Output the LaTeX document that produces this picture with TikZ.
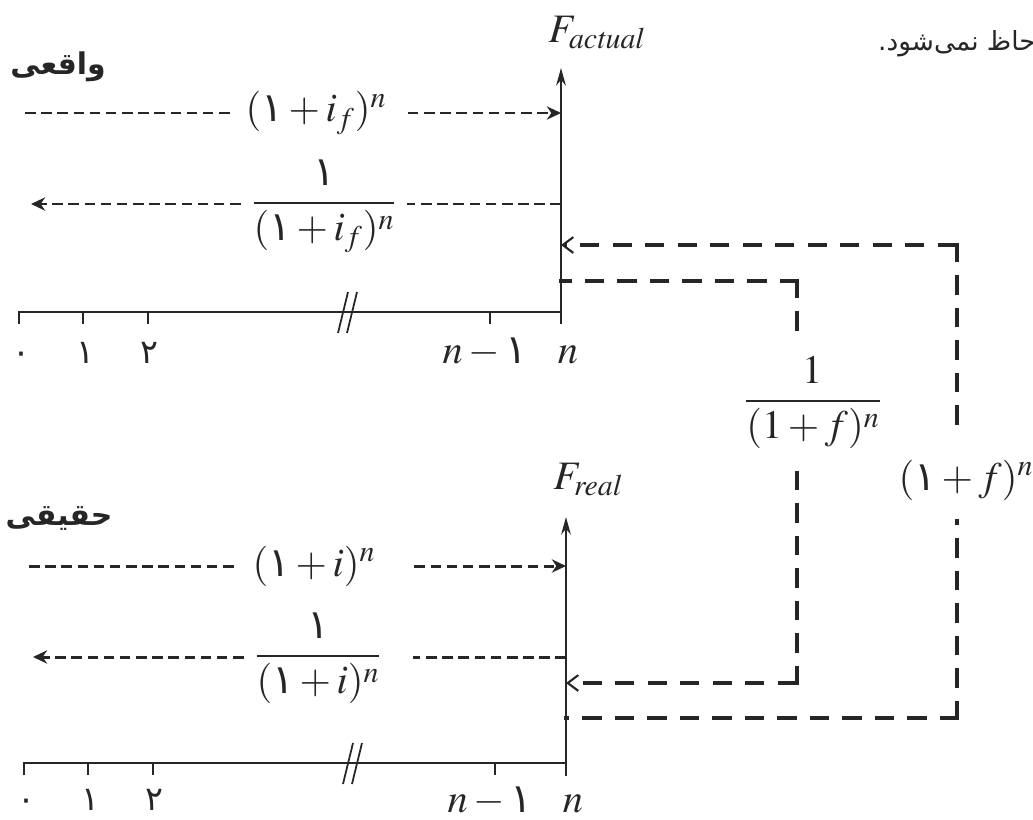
\documentclass[tikz,border=0pt]{standalone}
\usepackage{mathptmx}
\usepackage[no-math]{fontspec}
\setmainfont{Liberation Serif}
\newfontfamily\arabicfont[Script=Arabic]{DejaVu Sans}
\TeXXeTstate=1
\usetikzlibrary{positioning,arrows.meta,calc}
\definecolor{ink}{gray}{0.15}
\newcommand{\fa}[1]{\mbox{\arabicfont #1}}

\begin{document}
\begin{tikzpicture}[
        x=0.2mm, y=-0.2mm,
        every node/.style={text=ink, inner sep=0pt},
        mathlbl/.style={font=\fontsize{23}{27}\selectfont},
        faword/.style={font=\fontsize{17}{20}\selectfont\arabicfont\bfseries},
        fanote/.style={font=\fontsize{15}{18}\selectfont\arabicfont},
        fadigit/.style={font=\fontsize{19}{22}\selectfont\arabicfont},
        axisline/.style={draw=ink, line width=1.2pt},
        axisarrow/.style={axisline, -{Stealth[length=10pt, width=5.5pt]}},
        flowline/.style={draw=ink, line width=1.7pt, dash pattern=on 6pt off 3.2pt},
        flowarrow/.style={flowline, -{Stealth[length=8pt, width=7.5pt, inset=2.5pt]}},
        convline/.style={draw=ink, line width=2.8pt, line cap=rect, dash pattern=on 8.5pt off 10pt},
        convarrow/.style={convline, line cap=butt, dash pattern=on 11pt off 7.5pt, -{Straight Barb[length=6pt, width=9pt, line width'=1.2pt]}}
    ]
        \useasboundingbox (0,0) rectangle (1033,819);

        % Top time line (actual)
        \node[faword] (actlbl) at (58,67) {\beginR واقعی\endR};
        \node[fanote, anchor=east] (note) at (1036,44) {\beginR حاظ نمی‌شود.\endR};

        \coordinate (ta0) at (19,312);
        \coordinate (tan) at (561,312);
        \coordinate (tabot) at (561,324);
        \coordinate (tatop) at (561,68);
        \draw[axisline] (19,324) -- (ta0) -- (tan);
        \draw[axisarrow] (tabot) -- (tatop);
        \node[mathlbl, anchor=base west] (fact) at (548,42) {$F_{\mathit{actual}}$};

        % ticks and break
        \draw[axisline] (83,312) -- (83,324);
        \draw[axisline] (148,312) -- (148,324);
        \draw[axisline] (490,312) -- (490,324);
        \draw[axisline, line width=1pt] (338,333) -- (348,292) (347,333) -- (357,292);

        \node[fadigit, anchor=base] (t0) at (21,363) {۰};
        \node[fadigit, anchor=base] (t1) at (85,363) {۱};
        \node[fadigit, anchor=base] (t2) at (149,363) {۲};
        \node[mathlbl, anchor=base] (tn1) at (485,363) {$n-\fa{۱}$};
        \node[mathlbl, anchor=base] (tnn) at (568,363) {$n$};

        % compound and discount (actual rate)
        \coordinate (tc1s) at (25,113);
        \coordinate (tc1e) at (561,113);
        \node[mathlbl] (tgrow) at (316,113) {$(\fa{۱}+i_f)^n$};
        \draw[flowline] (tc1s) -- ($(tc1s -| tgrow.west)+(-8pt,0)$);
        \draw[flowarrow] ($(tc1e -| tgrow.east)+(12pt,0)$) -- (tc1e);

        \coordinate (tc2s) at (31,204);
        \coordinate (tc2e) at (561,204);
        \node[mathlbl, anchor=base, inner xsep=6pt] (tdisc) at (324,213) {$\displaystyle\frac{\fa{۱}}{(\fa{۱}+i_f)^n}$};
        \draw[flowarrow] (tc2s -| tdisc.west) -- (tc2s);
        \draw[flowline] (tc2e) -- (tc2e -| tdisc.east);

        % Bottom time line (real)
        \node[faword] (reallbl) at (59,518) {\beginR حقیقی\endR};

        \coordinate (ba0) at (24,763);
        \coordinate (ban) at (566,763);
        \coordinate (babot) at (566,776);
        \coordinate (batop) at (566,517);
        \draw[axisline] (24,775) -- (ba0) -- (ban);
        \draw[axisarrow] (babot) -- (batop);
        \node[mathlbl, anchor=base west] (freal) at (553,489) {$F_{\mathit{real}}$};

        \draw[axisline] (88,763) -- (88,775);
        \draw[axisline] (153,763) -- (153,775);
        \draw[axisline] (495,763) -- (495,775);
        \draw[axisline, line width=1pt] (343,784) -- (353,743) (352,784) -- (362,743);

        \node[fadigit, anchor=base] (b0) at (26,810) {۰};
        \node[fadigit, anchor=base] (b1) at (90,810) {۱};
        \node[fadigit, anchor=base] (b2) at (154,810) {۲};
        \node[mathlbl, anchor=base] (bn1) at (490,812) {$n-\fa{۱}$};
        \node[mathlbl, anchor=base] (bnn) at (573,812) {$n$};

        % compound and discount (real rate)
        \coordinate (bc1s) at (29,566);
        \coordinate (bc1e) at (566,566);
        \node[mathlbl] (bgrow) at (314,566) {$(\fa{۱}+i)^n$};
        \draw[flowline] (bc1s) -- ($(bc1s -| bgrow.west)+(-8pt,0)$);
        \draw[flowarrow] ($(bc1e -| bgrow.east)+(22pt,0)$) -- (bc1e);

        \coordinate (bc2s) at (33,657);
        \coordinate (bc2e) at (566,657);
        \node[mathlbl, anchor=base, inner xsep=6pt] (bdisc) at (318,666) {$\displaystyle\frac{\fa{۱}}{(\fa{۱}+i)^n}$};
        \draw[flowarrow] (bc2s -| bdisc.west) -- (bc2s);
        \draw[flowline] (bc2e) -- ($(bc2e -| bdisc.east)+(12pt,0)$);

        % Conversion between the two time lines
        \coordinate (tout) at (561,281);
        \coordinate (tin) at (561,245);
        \coordinate (bin) at (566,683);
        \coordinate (bout) at (566,718);
        \coordinate (ic1) at (797,281);
        \coordinate (ic2) at (797,683);
        \coordinate (oc1) at (957,245);
        \coordinate (oc2) at (957,718);

        \node[mathlbl, anchor=base, inner sep=7pt] (deflat) at (813,411) {$\displaystyle\frac{1}{(1+f)^n}$};
        \node[mathlbl, inner xsep=2pt, inner ysep=12pt] (inflat) at (966,480) {$(\fa{۱}+f)^n$};

        \draw[convline] (ic1) -- (tout);
        \draw[convline] (ic1) -- (ic1 |- deflat.north);
        \draw[convline] (ic2) -- (ic2 |- deflat.south);
        \draw[convarrow] (ic2) -- (bin);

        \draw[convline] (oc2) -- (bout);
        \draw[convline] (oc2) -- (oc2 |- inflat.south);
        \draw[convline] (oc1) -- (oc1 |- inflat.north);
        \draw[convarrow] (oc1) -- (tin);

    \end{tikzpicture}
\end{document}
